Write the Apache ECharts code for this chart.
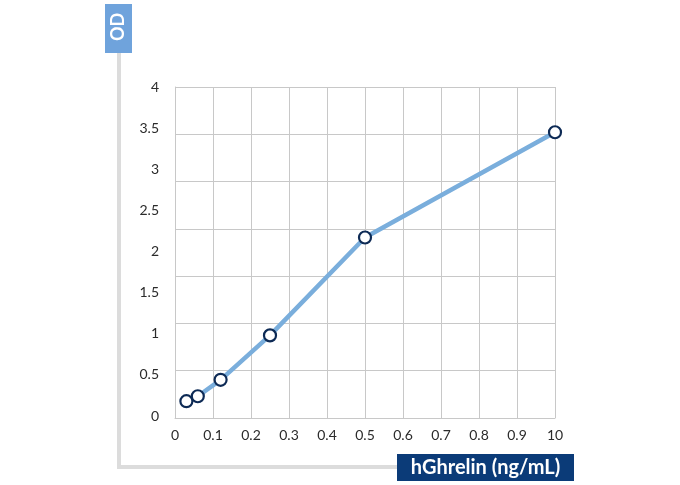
<!DOCTYPE html>
<html><head><meta charset="utf-8">
<script src="https://cdn.jsdelivr.net/npm/echarts@6/dist/echarts.min.js"></script>
<style>html,body{margin:0;padding:0;background:#fff}#c{width:680px;height:485px}</style>
</head><body><div id="c"></div>
<script>
const xValues = [0.03, 0.06, 0.12, 0.25, 0.5, 1.0];
const odValues = [0.18, 0.24, 0.44, 0.98, 2.17, 3.45];
const xTickLabels = ['0','0.1','0.2','0.3','0.4','0.5','0.6','0.7','0.8','0.9','10'];
const yTickLabels = ['0','0.5','1','1.5','2','2.5','3','3.5','4'];
const xTitle = 'hGhrelin (ng/mL)';
const yTitle = 'OD';

const chart = echarts.init(document.getElementById('c'));
const font = 'Lato, "Open Sans", sans-serif';
const gridColor = '#c8c8c8';
chart.setOption({
  animation: false,
  grid: [
    {left: 175, right: 125, top: 87, bottom: 67},
    {left: 175, right: 125, top: 87, bottom: 69}
  ],
  xAxis: [{
    gridIndex: 0, type: 'value', min: 0, max: 1, interval: 0.1,
    axisLine: {show: true, lineStyle: {color: gridColor, width: 1}},
    axisTick: {show: false},
    splitLine: {show: true, lineStyle: {color: gridColor, width: 1}},
    axisLabel: {
      color: '#2b2b2b', fontFamily: font, fontSize: 14, margin: 10,
      formatter: v => xTickLabels[Math.round(v * 10)]
    }
  }, {
    gridIndex: 1, type: 'value', min: 0, max: 1, show: false
  }],
  yAxis: [{
    // grid lines of the reference (7 bands)
    gridIndex: 0, type: 'value', min: 0, max: 7, interval: 1,
    axisLine: {show: true, lineStyle: {color: gridColor, width: 1}},
    axisTick: {show: false},
    axisLabel: {show: false},
    splitLine: {show: true, lineStyle: {color: gridColor, width: 1}}
  }, {
    gridIndex: 1, type: 'value', min: 0, max: 4, interval: 0.5,
    axisLine: {show: false}, axisTick: {show: false}, splitLine: {show: false},
    axisLabel: {
      color: '#2b2b2b', fontFamily: font, fontSize: 14, margin: 16,
      formatter: v => yTickLabels[Math.round(v * 2)]
    }
  }],
  series: [{
    type: 'line', xAxisIndex: 1, yAxisIndex: 1,
    data: xValues.map((x, i) => [x, odValues[i]]),
    lineStyle: {color: '#7aaedc', width: 4.5},
    symbol: 'circle', symbolSize: 12,
    itemStyle: {color: '#ffffff', borderColor: '#0d2a55', borderWidth: 2.2}
  }],
  graphic: [
    {type: 'rect', shape: {x: 117, y: 50, width: 4, height: 419}, style: {fill: '#dcdcdc'}, z: 0},
    {type: 'rect', shape: {x: 117, y: 465, width: 282, height: 4}, style: {fill: '#dcdcdc'}, z: 0},
    {type: 'rect', shape: {x: 105, y: 4, width: 27, height: 49}, style: {fill: '#6fa3dc'}},
    {type: 'text', x: 118.5, y: 27, rotation: Math.PI / 2,
      style: {text: yTitle, fill: '#fff', font: 'bold 18px ' + font, align: 'center', verticalAlign: 'middle'}},
    {type: 'rect', shape: {x: 397, y: 454, width: 177, height: 27}, style: {fill: '#0b3b78'}},
    {type: 'text', x: 485.5, y: 467.5,
      style: {text: xTitle, fill: '#fff', font: 'bold 20px ' + font, align: 'center', verticalAlign: 'middle'}}
  ]
});
</script></body></html>
